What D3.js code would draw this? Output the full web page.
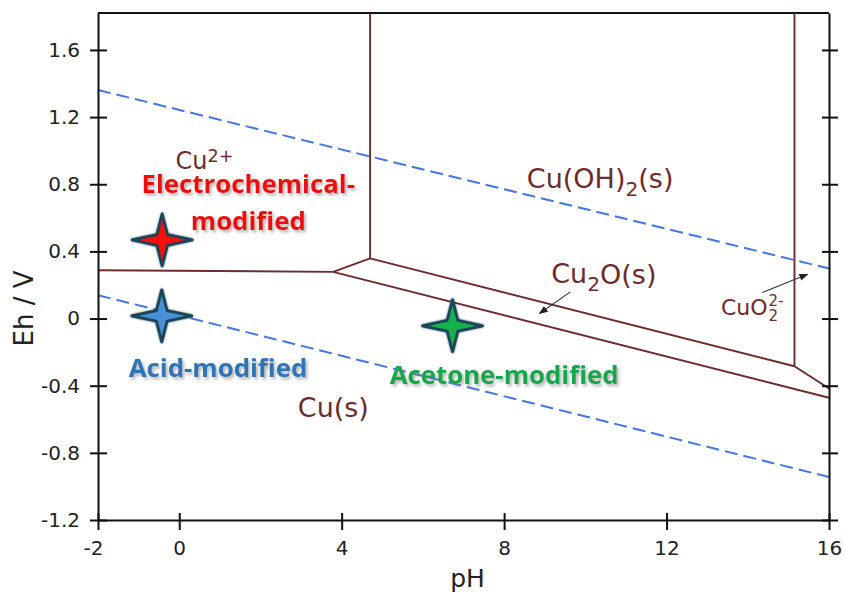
<!DOCTYPE html>
<html>
<head>
<meta charset="utf-8">
<script src="https://cdn.jsdelivr.net/npm/d3@7"></script>
<style>
  html, body { margin: 0; padding: 0; background: #fff; }
  svg { display: block; }
</style>
</head>
<body>
<svg id="chart" width="845" height="599"></svg>
<script>
// ---------------- data ----------------
const phTicks = [-2, 0, 4, 8, 12, 16];
const ehTicks = [-1.2, -0.8, -0.4, 0, 0.4, 0.8, 1.2, 1.6];
const phDomain = [-2, 16];
const ehDomain = [-1.2, 1.82];

// phase boundaries [pH, Eh]
const cuIonCuLine     = [[-2, 0.288], [3.79, 0.278]];
const cuIonCu2OLine   = [[3.79, 0.278], [4.70, 0.358]];
const cuIonCuOH2Line  = [[4.70, 0.358], [4.70, 1.82]];
const cu2oCuOH2Line   = [[4.70, 0.358], [15.15, -0.284]];
const cuOH2CuO2Line   = [[15.15, -0.284], [15.15, 1.82]];
const cu2oCuO2Line    = [[15.15, -0.284], [16, -0.417]];
const cuCu2OLine      = [[3.79, 0.278], [16, -0.472]];
// water stability lines
const waterUpperLine  = [[-2, 1.361], [16, 0.298]];
const waterLowerLine  = [[-2, 0.139], [16, -0.944]];

// samples
const sampleNames = ["Electrochemical-modified", "Acid-modified", "Acetone-modified"];
const samplePH    = [-0.42, -0.43, 6.73];
const sampleEh    = [0.468, 0.016, -0.043];

// ---------------- layout ----------------
const svg = d3.select("#chart");
const x = d3.scaleLinear().domain(phDomain).range([98, 829]);
const y = d3.scaleLinear().domain(ehDomain).range([520, 13]);

const brown = "#6d2b2b";
const blue = "#4476e4";
const font = "'DejaVu Sans', Verdana, sans-serif";

const defs = svg.append("defs");
const sh = defs.append("filter").attr("id", "shadow")
  .attr("x", "-10%").attr("y", "-30%").attr("width", "130%").attr("height", "180%");
sh.append("feDropShadow").attr("dx", 2).attr("dy", 2.5).attr("stdDeviation", 1.6)
  .attr("flood-color", "#777").attr("flood-opacity", 0.55);
const glow = defs.append("filter").attr("id", "glow")
  .attr("x", "-30%").attr("y", "-30%").attr("width", "160%").attr("height", "160%");
glow.append("feGaussianBlur").attr("in", "SourceAlpha").attr("stdDeviation", 1.3).attr("result", "b");
glow.append("feFlood").attr("flood-color", "#123e52").attr("flood-opacity", 0.8);
glow.append("feComposite").attr("in2", "b").attr("operator", "in").attr("result", "g");
const gm = glow.append("feMerge");
gm.append("feMergeNode").attr("in", "g");
gm.append("feMergeNode").attr("in", "SourceGraphic");

const line = d3.line().x(d => x(d[0])).y(d => y(d[1]));

// frame (top)
svg.append("line").attr("x1", x(phDomain[0])).attr("x2", x(phDomain[1]))
  .attr("y1", y(ehDomain[1])).attr("y2", y(ehDomain[1]))
  .attr("stroke", "#111").attr("stroke-width", 2);

// water lines
[waterUpperLine, waterLowerLine].forEach(l => {
  svg.append("path").attr("d", line(l)).attr("fill", "none")
    .attr("stroke", blue).attr("stroke-width", 2)
    .attr("stroke-dasharray", "13,6");
});

// boundaries
[cuIonCuLine, cuIonCu2OLine, cuIonCuOH2Line, cu2oCuOH2Line, cuOH2CuO2Line, cu2oCuO2Line, cuCu2OLine]
  .forEach(l => {
    svg.append("path").attr("d", line(l)).attr("fill", "none")
      .attr("stroke", brown).attr("stroke-width", 1.9).attr("stroke-linejoin", "miter");
  });

// axes
const fmt = d => d === 0 ? "0" : (Number.isInteger(d) ? String(d) : d.toFixed(1));
const yAxisL = svg.append("g").attr("transform", `translate(${x(phDomain[0])},0)`)
  .call(d3.axisLeft(y).tickValues(ehTicks).tickFormat(fmt).tickSizeInner(8).tickSizeOuter(0).tickPadding(10));
const yAxisR = svg.append("g").attr("transform", `translate(${x(phDomain[1])},0)`)
  .call(d3.axisRight(y).tickValues(ehTicks).tickFormat("").tickSizeInner(9).tickSizeOuter(0));
const xAxis = svg.append("g").attr("transform", `translate(0,${y(ehDomain[0])})`)
  .call(d3.axisBottom(x).tickValues(phTicks).tickFormat(fmt).tickSizeInner(10).tickSizeOuter(0).tickPadding(11));

[yAxisL, yAxisR, xAxis].forEach(g => {
  g.select(".domain").attr("stroke", "#111").attr("stroke-width", 2);
  g.selectAll(".tick line").attr("stroke", "#111").attr("stroke-width", 2);
  g.selectAll("text").attr("font-family", font).attr("font-size", 20).attr("fill", "#222");
});
// crossing ticks
yAxisL.selectAll(".tick line").attr("x1", 9);
yAxisR.selectAll(".tick line").attr("x1", -7);
xAxis.selectAll(".tick line").attr("y1", -7);
yAxisL.selectAll("text").attr("x", -18);
xAxis.selectAll(".tick text").attr("dx", d => d < 0 ? -5 : 0);

// axis titles
svg.append("text").attr("x", x(7.1)).attr("y", 587).attr("text-anchor", "middle")
  .attr("font-family", font).attr("font-size", 25).attr("fill", "#222").text("pH");
svg.append("text").attr("transform", `translate(33,${y(0.06)}) rotate(-90)`)
  .attr("text-anchor", "middle").attr("font-family", font).attr("font-size", 26)
  .attr("fill", "#222").text("Eh / V");

// phase labels
function chemLabel(px, py, parts, size, supScale, supRise) {
  const t = svg.append("text").attr("x", x(px)).attr("y", y(py))
    .attr("font-family", font).attr("font-size", size).attr("fill", brown);
  parts.forEach(p => {
    const ts = t.append("tspan").text(p.t);
    if (p.sub) ts.attr("font-size", size * 0.75).attr("dy", size * 0.28);
    else if (p.sup) ts.attr("font-size", size * (supScale || 0.75)).attr("dy", -(supRise || size * 0.4));
    else if (p.back) ts.attr("dy", p.back);
  });
  return t;
}
chemLabel(-0.09, 0.89, [{t: "Cu"}, {t: "2+", sup: true}], 24, 0.73, 7.6);
chemLabel(8.56, 0.775, [{t: "Cu(OH)"}, {t: "2", sub: true}, {t: "(s)", back: -7.5}], 27);
chemLabel(9.16, 0.209, [{t: "Cu"}, {t: "2", sub: true}, {t: "O(s)", back: -7.5}], 27);
chemLabel(2.92, -0.587, [{t: "Cu(s)"}], 27);

// CuO2 2- with stacked sub/superscript (single text element)
const cuo = svg.append("text").attr("x", x(13.34)).attr("y", y(0.02))
  .attr("font-family", font).attr("font-size", 22).attr("fill", brown);
cuo.append("tspan").text("CuO");
const cuoEnd = x(13.34) + cuo.node().getComputedTextLength() + 1;
cuo.append("tspan").attr("x", cuoEnd).attr("dy", 6).attr("font-size", 15).text("2");
cuo.append("tspan").attr("x", cuoEnd).attr("dy", -15).attr("font-size", 15).text("2-");

// arrows
const ah = defs.append("marker").attr("id", "arrow").attr("viewBox", "0 0 10 10")
  .attr("refX", 9).attr("refY", 5).attr("markerWidth", 9).attr("markerHeight", 9)
  .attr("markerUnits", "userSpaceOnUse").attr("orient", "auto");
ah.append("path").attr("d", "M0,1 L10,5 L0,9 Z").attr("fill", "#222");
const arrows = [[[9.63, 0.159], [8.87, 0.03]], [[14.36, 0.155], [15.47, 0.264]]];
arrows.forEach(a => {
  svg.append("path").attr("d", line(a)).attr("stroke", "#333").attr("stroke-width", 1.1)
    .attr("fill", "none").attr("marker-end", "url(#arrow)");
});

// sample stars (4-pointed)
const starColors = ["#ff0a0a", "#4a90d8", "#17b050"];
const starPath = "M0,-26 L5.3,-5.3 L30,0 L5.3,5.3 L0,26 L-5.3,5.3 L-30,0 L-5.3,-5.3Z";
sampleNames.forEach((n, i) => {
  svg.append("path").attr("d", starPath)
    .attr("transform", `translate(${x(samplePH[i])},${y(sampleEh[i])})`)
    .attr("fill", starColors[i]).attr("stroke", "#1b4556").attr("stroke-width", 2.8)
    .attr("stroke-linejoin", "round").attr("filter", "url(#glow)");
});

// sample labels
const boldFont = "'Open Sans', 'Noto Sans', sans-serif";
function sampleLabel(px, py, txt, color) {
  svg.append("text").attr("x", x(px)).attr("y", y(py)).attr("text-anchor", "middle")
    .attr("font-family", boldFont).attr("font-weight", 700).attr("font-size", 25.8)
    .attr("fill", color).attr("filter", "url(#shadow)").text(txt);
}
sampleLabel(1.70, 0.745, "Electrochemical-", "#ee0b0b");
sampleLabel(1.70, 0.526, "modified", "#ee0b0b");
sampleLabel(0.956, -0.35, sampleNames[1], "#2f74b8");
sampleLabel(8.0, -0.389, sampleNames[2], "#12a64c");
</script>
</body>
</html>
